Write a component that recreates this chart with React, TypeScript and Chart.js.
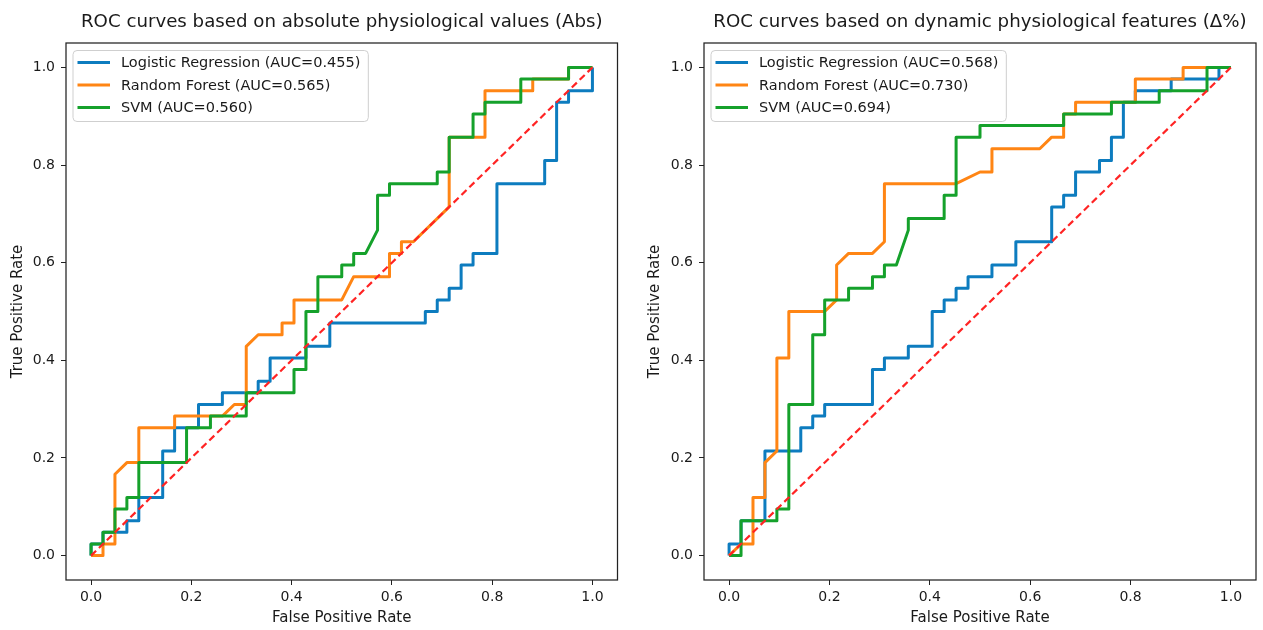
import React, { useEffect, useRef } from "react";
import { Chart, registerables } from "chart.js";

Chart.register(...registerables);

const NEG = 42;
const POS = 42;

const tickValues = [0, 0.2, 0.4, 0.6, 0.8, 1.0];
const seriesNames = ["Logistic Regression", "Random Forest", "SVM"];
const seriesColors = ["#0d7cbf", "#ff8514", "#15a12b"];
const chanceFpr = [0, 1];
const chanceTpr = [0, 1];

// left panel: absolute values
const absAuc = [0.455, 0.565, 0.56];
const absLrFp = [0, 0, 1, 1, 3, 3, 4, 4, 6, 6, 7, 7, 9, 9, 11, 11, 14, 14, 15, 15, 18, 18, 20, 20, 28, 28, 29, 29, 30, 30, 31, 31, 32, 32, 34, 34, 38, 38, 39, 39, 40, 40, 42, 42];
const absLrTp = [0, 1, 1, 2, 2, 3, 3, 5, 5, 9, 9, 11, 11, 13, 13, 14, 14, 15, 15, 17, 17, 18, 18, 20, 20, 21, 21, 22, 22, 23, 23, 25, 25, 26, 26, 32, 32, 34, 34, 39, 39, 40, 40, 42];
const absRfFp = [0, 1, 1, 2, 2, 3, 4, 4, 7, 7, 11, 12, 13, 13, 14, 16, 16, 17, 17, 21, 22, 25, 25, 26, 26, 27, 30, 30, 33, 33, 37, 37, 40, 40, 42];
const absRfTp = [0, 0, 1, 1, 7, 8, 8, 11, 11, 12, 12, 13, 13, 18, 19, 19, 20, 20, 22, 22, 24, 24, 26, 26, 27, 27, 30, 36, 36, 40, 40, 41, 41, 42, 42];
const absSvmFp = [0, 0, 1, 1, 2, 2, 3, 3, 4, 4, 8, 8, 10, 10, 13, 13, 17, 17, 18, 18, 19, 19, 21, 21, 22, 22, 23, 24, 24, 25, 25, 29, 29, 30, 30, 32, 32, 33, 33, 36, 36, 40, 40, 42];
const absSvmTp = [0, 1, 1, 2, 2, 4, 4, 5, 5, 8, 8, 11, 11, 12, 12, 14, 14, 16, 16, 21, 21, 24, 24, 25, 25, 26, 26, 28, 31, 31, 32, 32, 33, 33, 36, 36, 38, 38, 39, 39, 41, 41, 42, 42];

// right panel: dynamic features
const dynAuc = [0.568, 0.73, 0.694];
const dynLrFp = [0, 0, 1, 1, 3, 3, 6, 6, 7, 7, 8, 8, 12, 12, 13, 13, 15, 15, 17, 17, 18, 18, 19, 19, 20, 20, 22, 22, 24, 24, 27, 27, 28, 28, 29, 29, 31, 31, 32, 32, 33, 33, 34, 34, 37, 37, 41, 41, 42];
const dynLrTp = [0, 1, 1, 3, 3, 9, 9, 11, 11, 12, 12, 13, 13, 16, 16, 17, 17, 18, 18, 21, 21, 22, 22, 23, 23, 24, 24, 25, 25, 27, 27, 30, 30, 31, 31, 33, 33, 34, 34, 36, 36, 39, 39, 40, 40, 41, 41, 42, 42];
const dynRfFp = [0, 1, 2, 2, 3, 3, 4, 4, 5, 5, 8, 9, 9, 10, 12, 13, 13, 19, 21, 22, 22, 26, 27, 28, 28, 29, 29, 34, 34, 38, 38, 42];
const dynRfTp = [0, 1, 1, 5, 5, 8, 9, 17, 17, 21, 21, 22, 25, 26, 26, 27, 32, 32, 33, 33, 35, 35, 36, 36, 38, 38, 39, 39, 41, 41, 42, 42];
const dynSvmFp = [0, 1, 1, 4, 4, 5, 5, 7, 7, 8, 8, 10, 10, 12, 12, 13, 13, 14, 15, 15, 18, 18, 19, 19, 21, 21, 28, 28, 32, 32, 36, 36, 40, 40, 42];
const dynSvmTp = [0, 0, 3, 3, 4, 4, 13, 13, 19, 19, 22, 22, 23, 23, 24, 24, 25, 25, 28, 29, 29, 31, 31, 36, 36, 37, 37, 38, 38, 39, 39, 40, 40, 42, 42];

const FONT = "DejaVu Sans";
const TEXT = "#1a1a1a";

const toPoints = (fp: number[], tp: number[]) =>
  fp.map((f, i) => ({ x: f / NEG, y: tp[i] / POS }));

type PanelProps = {
  title: string;
  auc: number[];
  curves: [number[], number[]][];
  left: number;
  width: number;
  axisW: number;
  padRight: number;
};

const RocPanel: React.FC<PanelProps> = ({ title, auc, curves, left, width, axisW, padRight }) => {
  const canvasRef = useRef<HTMLCanvasElement>(null);

  useEffect(() => {
    if (!canvasRef.current) return;

    const datasets: any[] = curves.map(([fp, tp], i) => ({
      label: `${seriesNames[i]} (AUC=${auc[i].toFixed(3)})`,
      data: toPoints(fp, tp),
      showLine: true,
      borderColor: seriesColors[i],
      backgroundColor: seriesColors[i],
      borderWidth: 3,
      pointRadius: 0,
      tension: 0,
      borderJoinStyle: "round",
      order: 3 - i,
    }));
    datasets.push({
      label: "",
      data: chanceFpr.map((f, i) => ({ x: f, y: chanceTpr[i] })),
      showLine: true,
      borderColor: "#ff2424",
      borderWidth: 2.2,
      borderDash: [7, 4],
      pointRadius: 0,
      order: 0,
    });

    // axes frame on all four sides
    const frame = {
      id: "frame",
      afterDraw(chart: any) {
        const { ctx, chartArea: a } = chart;
        ctx.save();
        ctx.strokeStyle = "#222";
        ctx.lineWidth = 1.25;
        ctx.strokeRect(a.left, a.top, a.right - a.left, a.bottom - a.top);
        ctx.restore();
      },
    };

    // title centred over the plot area
    const panelTitle = {
      id: "panelTitle",
      afterDraw(chart: any) {
        const { ctx, chartArea: a } = chart;
        ctx.save();
        ctx.font = `18.2px "${FONT}"`;
        ctx.fillStyle = TEXT;
        ctx.textAlign = "center";
        ctx.textBaseline = "alphabetic";
        ctx.fillText(title, (a.left + a.right) / 2, 27);
        ctx.restore();
      },
    };

    // matplotlib-like legend in the upper left corner
    const legendBox = {
      id: "legendBox",
      afterDraw(chart: any) {
        const { ctx, chartArea: a } = chart;
        const items = chart.data.datasets.filter((d: any) => d.label);
        ctx.save();
        ctx.font = `14.5px "${FONT}"`;
        const textX = a.left + 55;
        const maxW = Math.max(...items.map((d: any) => ctx.measureText(d.label).width));
        const bx = a.left + 7;
        const by = a.top + 7.5;
        const bw = textX + maxW + 8 - bx;
        const bh = 71;
        ctx.beginPath();
        ctx.roundRect(bx, by, bw, bh, 4);
        ctx.fillStyle = "rgba(255,255,255,0.85)";
        ctx.fill();
        ctx.strokeStyle = "#cfcfcf";
        ctx.lineWidth = 1;
        ctx.stroke();
        items.forEach((d: any, i: number) => {
          const y = a.top + 19.5 + i * 22.5;
          ctx.beginPath();
          ctx.moveTo(a.left + 11.5, y);
          ctx.lineTo(a.left + 44, y);
          ctx.strokeStyle = d.borderColor;
          ctx.lineWidth = 3;
          ctx.stroke();
          ctx.fillStyle = TEXT;
          ctx.textBaseline = "middle";
          ctx.fillText(d.label, textX, y + 1);
        });
        ctx.restore();
      },
    };

    const tickFont = { family: FONT, size: 14 };
    const labelFont = { family: FONT, size: 15 };
    const fixTicks = (axis: any) => {
      axis.ticks = tickValues.map((v) => ({ value: v }));
    };
    const grid = {
      display: true,
      drawOnChartArea: false,
      drawTicks: true,
      tickLength: 5,
      color: "#222",
      lineWidth: 1,
    };

    const chart = new Chart(canvasRef.current, {
      type: "scatter",
      data: { datasets },
      options: {
        animation: false,
        responsive: false,
        maintainAspectRatio: false,
        layout: { padding: { top: 43, right: padRight, bottom: 0, left: 0 } },
        plugins: {
          legend: { display: false },
          tooltip: { enabled: false },
          title: { display: false },
        },
        scales: {
          x: {
            type: "linear",
            min: -0.05,
            max: 1.05,
            afterBuildTicks: fixTicks,
            afterFit: (s: any) => {
              s.height = 50;
            },
            grid,
            border: { display: false },
            ticks: {
              font: tickFont,
              color: TEXT,
              padding: 4,
              maxRotation: 0,
              callback: (v: any) => Number(v).toFixed(1),
            },
            title: {
              display: true,
              text: "False Positive Rate",
              font: labelFont,
              color: TEXT,
              padding: { top: 0, bottom: 3 },
            },
          },
          y: {
            type: "linear",
            min: -0.05,
            max: 1.05,
            afterBuildTicks: fixTicks,
            afterFit: (s: any) => {
              s.width = axisW;
            },
            grid,
            border: { display: false },
            ticks: {
              font: tickFont,
              color: TEXT,
              padding: 6,
              callback: (v: any) => Number(v).toFixed(1),
            },
            title: {
              display: true,
              text: "True Positive Rate",
              font: labelFont,
              color: TEXT,
              padding: { top: 9, bottom: 0 },
            },
          },
        },
      } as any,
      plugins: [frame, panelTitle, legendBox],
    });

    return () => {
      chart.destroy();
    };
  }, []);

  return (
    <canvas
      ref={canvasRef}
      width={width}
      height={630}
      style={{ position: "absolute", left, top: 0, width, height: 630 }}
    />
  );
};

const App: React.FC = () => (
  <div style={{ position: "absolute", left: 0, top: 0, width: 1263, height: 630, background: "#fff" }}>
    <RocPanel
      title="ROC curves based on absolute physiological values (Abs)"
      auc={absAuc}
      curves={[
        [absLrFp, absLrTp],
        [absRfFp, absRfTp],
        [absSvmFp, absSvmTp],
      ]}
      left={0}
      width={637}
      axisW={66}
      padRight={19.5}
    />
    <RocPanel
      title="ROC curves based on dynamic physiological features (Δ%)"
      auc={dynAuc}
      curves={[
        [dynLrFp, dynLrTp],
        [dynRfFp, dynRfTp],
        [dynSvmFp, dynSvmTp],
      ]}
      left={637}
      width={626}
      axisW={67}
      padRight={7}
    />
  </div>
);

export default App;
